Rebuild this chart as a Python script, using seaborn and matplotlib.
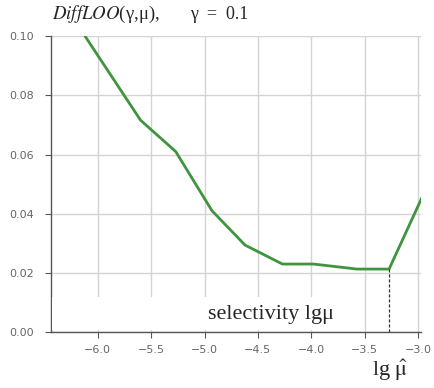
import matplotlib
matplotlib.use("Agg")
import matplotlib.pyplot as plt
import seaborn as sns
import pandas as pd
from matplotlib.patches import Rectangle

# data
lg_mu = [-6.12, -5.60, -5.27, -4.93, -4.62, -4.27, -3.98, -3.57, -3.27, -2.96]
diffloo = [0.100, 0.0716, 0.061, 0.041, 0.0294, 0.023, 0.023, 0.0213, 0.0213, 0.0456]
x_ticks = [-6.0, -5.5, -5.0, -4.5, -4.0, -3.5, -3.0]
y_ticks = [0.00, 0.02, 0.04, 0.06, 0.08, 0.10]
selected_lg_mu = -3.27
selected_value = 0.0213
title_left = r"$\mathit{DiffLOO}$(γ,μ),"
title_right = "γ  =  0.1"
xlabel_text = "selectivity lgμ"
opt_label = r"lg $\hat{\mathrm{\mu}}$"

df = pd.DataFrame({"lg_mu": lg_mu, "diffloo": diffloo})

sns.set_style("whitegrid")
plt.rcParams["mathtext.fontset"] = "stix"

fig = plt.figure(figsize=(4.35, 3.88), dpi=100)
ax = fig.add_axes([0.117, 0.144, 0.851, 0.763])

sns.lineplot(data=df, x="lg_mu", y="diffloo", ax=ax, color="#3f943f", lw=2.0)

ax.set_xlim(-6.44, -2.97)
ax.set_ylim(0.0, 0.10)
ax.set_xticks(x_ticks)
ax.set_yticks(y_ticks)
ax.set_xticklabels([f"{t:.1f}".replace("-", "\u2212") for t in x_ticks])
ax.set_yticklabels([f"{t:.2f}" for t in y_ticks])
ax.grid(True, color="#d4d4d4", lw=1.0)
ax.set_xlabel("")
ax.set_ylabel("")

for s in ["top", "right"]:
    ax.spines[s].set_visible(False)
for s in ["left", "bottom"]:
    ax.spines[s].set_color("#555555")
    ax.spines[s].set_linewidth(1.0)
ax.tick_params(axis="both", which="both", length=4, width=0.8, color="#555555",
               labelcolor="#666666", labelsize=8, direction="out",
               left=True, bottom=True)
ax.tick_params(axis="y", pad=8)
ax.tick_params(axis="x", pad=5)

# white box covering the grid behind the x-axis caption
ax.add_patch(Rectangle((-6.43, 0.0007), 2.8, 0.0112, facecolor="white",
                       edgecolor="none", zorder=3))
ax.text(-4.38, 0.0058, xlabel_text, ha="center", va="center", fontsize=16,
        family="Liberation Serif", zorder=4)

# dashed marker at the selected lg mu
ax.plot([selected_lg_mu, selected_lg_mu], [0.0, selected_value], ls=(0, (2.5, 1.5)),
        color="#333333", lw=0.9, zorder=4)

fig.text(0.897, 0.045, opt_label, ha="center", va="center", fontsize=16,
         family="Liberation Serif")
fig.text(0.12, 0.962, title_left, ha="left", va="center", fontsize=13.5,
         family="Liberation Serif")
fig.text(0.437, 0.962, title_right, ha="left", va="center", fontsize=13,
         family="Liberation Serif")

fig.savefig("out.png", dpi=100)
